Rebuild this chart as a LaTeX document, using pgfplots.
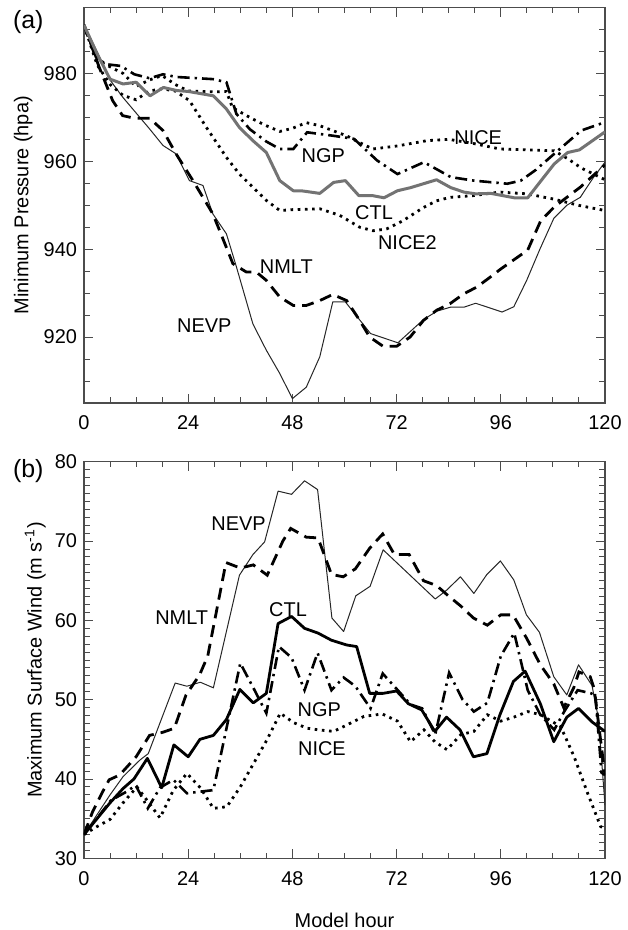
\documentclass[border=0pt]{standalone}
\usepackage{fontspec}
\setmainfont{Liberation Sans}
\usepackage{pgfplots}
\pgfplotsset{compat=1.18}
\pgfplotsset{
  base/.style={
    scale only axis, width=260.5bp,
    xmin=0, xmax=120, xtick={0,24,...,120}, minor xtick={0,6,...,120},
    tick align=inside,
    axis line style={black!70, line width=0.6bp},
    every tick/.style={black!70, line width=0.5bp},
    major tick length=4.5bp, minor tick length=2.8bp,
    tick label style={font=\fontsize{10}{12}\selectfont},
    /pgf/number format/assume math mode=true,
    xticklabel style={yshift=-3bp},
    label style={font=\fontsize{10}{12}\selectfont},
  },
  ctlg/.style={black!55, line width=1.5bp, line join=round},
  ctlb/.style={black, line width=1.4bp, line join=round},
  ngp/.style={black, line width=1.3bp, dash pattern=on 6bp off 2.5bp on 1.2bp off 2.5bp},
  nmlt/.style={black, line width=1.4bp, dash pattern=on 6bp off 3.5bp},
  nice/.style={black, line width=1.4bp, dash pattern=on 1.3bp off 2.3bp},
  nevp/.style={black!85, line width=0.5bp, line join=round},
}
\begin{document}
\begin{tikzpicture}
\useasboundingbox (-42bp,-35.85bp) rectangle (272bp,429.15bp);
% ---------- panel (a)
\begin{axis}[base, at={(0,227.65bp)}, anchor=south west, height=197.75bp,
  ymin=905, ymax=995, ytick={920,940,960,980}, minor ytick={910,915,...,990},
  ylabel={Minimum Pressure (hpa)},
  ylabel style={at={(axis description cs:-0.1068,0.5)}, anchor=base}]
\addplot[nevp] coordinates {(0,991)(3,985)(6,978.5)(9,974.5)(12,971)(15,967.5)(18.2,963.6)(21.2,961.7)(24.3,955.6)(27.4,954.5)(29.7,948)(32.8,943.5)(35.1,936)(38.9,923)(42,917)(45.1,911.7)(48,906)(51.2,908.6)(54.3,915.5)(57.3,928)(60.2,928)(66,920.8)(72.3,918.7)(78.2,924)(81.3,925.9)(84.4,926.8)(87.5,926.8)(90.2,927.7)(96.3,925.7)(99,926.9)(102,933)(105,940)(108.2,947)(111.2,950)(114.3,951.8)(117.4,956.4)(120,959.8)};
\addplot[nmlt] coordinates {(0,991)(3.5,981.4)(6.6,973.8)(8.9,970.4)(11.6,969.8)(15.1,969.8)(18.2,967)(21.2,961.7)(25.1,955.6)(29.7,948)(34.3,936.7)(37.4,934.8)(39.7,934.8)(42,932.9)(45.1,929.1)(48.2,927.2)(51.2,927.2)(54.3,928.3)(57.3,929.7)(60.5,928.3)(63.5,923.8)(65.8,920)(68.9,917.9)(72,917.9)(75.1,920)(78.2,923.8)(81.2,926.1)(84.3,927.6)(87.4,929.8)(90.5,931.4)(93.5,933.6)(96,935.5)(102.2,939.8)(105.2,946.5)(108.3,949.6)(111.2,951.8)(114.3,954.1)(120,959.2)};
\addplot[nice] coordinates {(0,991)(3,983)(6,981.5)(9,980)(12,977)(15,978.5)(18,979.5)(21,977.5)(24,976)(30,975.8)(32.8,975.9)(34.2,972.2)(38.9,969.6)(42,968.1)(45.1,966.8)(48,967.5)(51.2,968.8)(54.3,968.1)(60.5,965.8)(63,964.5)(66.5,962.8)(72.2,963.5)(79,964.7)(84,965)(90,964)(95.8,962.8)(108.3,962.4)(111.4,960.6)(114.5,958.5)(120,955.8)};
\addplot[nice] coordinates {(0,991)(3,982)(6,977.5)(9,975)(12,974)(15,976)(18,976.5)(21,976)(24.3,973.8)(28.2,967.7)(32.8,960.9)(35.8,957.1)(38.9,954.1)(42,951.1)(45.1,948.8)(48,949)(54.3,949.2)(58.9,947.7)(63.5,945)(66.6,944.2)(69.7,944.6)(73.5,946.5)(78.2,949.5)(81.2,951)(84.3,951.8)(89.7,952.2)(95.8,953)(102,952.6)(108.2,951.4)(114.3,949.9)(120,948.8)};
\addplot[ngp] coordinates {(0,991)(2.8,983.6)(5.1,982.1)(8.5,981.7)(11.6,979.8)(15.1,978.9)(18.2,979.8)(21.2,979.2)(29.7,978.7)(32.8,978)(35.1,970.8)(38.2,967.3)(42,964.5)(45.1,962.8)(48.2,962.8)(51.4,966.6)(57.5,965.8)(62.2,965.1)(67.5,960.2)(72.2,957.1)(78.3,959.8)(84.5,956.4)(89.8,955.6)(97.5,954.9)(100.6,955.6)(104,958)(108.3,961.7)(114.5,967)(120,968.9)};
\addplot[ctlg] coordinates {(0,991)(3,984.5)(6,978.7)(9,977.6)(12,978)(15.2,974.9)(18.3,976.8)(21.4,976.1)(24,975.9)(29.8,974.9)(32.8,971.9)(35.8,967.7)(38.9,964.7)(42,962)(45.1,955.6)(48.2,953.3)(50,953.3)(54.3,952.7)(57.5,955.2)(60.2,955.6)(63.3,952.2)(66.4,952.2)(69.1,951.7)(72.2,953.3)(75.2,954)(81.2,955.8)(84.5,954)(87.5,953)(90.2,952.6)(93.7,952.7)(99.1,951.7)(102.2,951.7)(105.2,955.5)(108.3,959.4)(111.4,962)(114.1,962.6)(120,966.7)};
\node[font=\fontsize{10}{12}\selectfont, inner sep=0] at (axis cs:55.1,961.4) {NGP};
\node[font=\fontsize{10}{12}\selectfont, inner sep=0] at (axis cs:90.8,965.3) {NICE};
\node[font=\fontsize{10}{12}\selectfont, inner sep=0] at (axis cs:66.8,948.4) {CTL};
\node[font=\fontsize{10}{12}\selectfont, inner sep=0] at (axis cs:74.5,941.4) {NICE2};
\node[font=\fontsize{10}{12}\selectfont, inner sep=0] at (axis cs:46.6,936.1) {NMLT};
\node[font=\fontsize{10}{12}\selectfont, inner sep=0] at (axis cs:27.7,922.6) {NEVP};
\end{axis}
% ---------- panel (b)
\begin{axis}[base, at={(0,0)}, anchor=south west, height=198.25bp,
  ymin=30, ymax=80, ytick={30,40,...,80}, minor ytick={30,31,...,80},
  ylabel={Maximum Surface Wind (m s\textsuperscript{-1})},
  ylabel style={at={(axis description cs:-0.0813,0.5)}, anchor=base},
  xlabel={Model hour},
  xlabel style={at={(axis description cs:0.5,0)}, anchor=base, yshift=-34.35bp}]
\addplot[nevp] coordinates {(0,33)(3,35.5)(6,38)(9,40.3)(12.9,42.4)(14.8,43.2)(21,52.1)(23.7,51.7)(26.8,52.2)(29.8,51.5)(32.8,58.6)(35.8,65.7)(38.9,68.3)(41.6,69.9)(44.7,76.3)(47.8,75.9)(50.8,77.6)(53.8,76.5)(57.1,60.3)(59.8,58.6)(62.6,63.1)(65.9,64.3)(68.9,68.9)(80.9,62.7)(83.5,63.8)(86.7,65.5)(89.8,63.4)(92.8,65.8)(95.9,67.5)(99,65.1)(101.9,60.7)(104.9,58.5)(108.2,52.9)(111.2,50.6)(113.9,54.4)(117,51.8)(118.5,47.6)(120,36.7)};
\addplot[nmlt] coordinates {(0,33)(2,35.9)(4.3,38.4)(5.8,39.9)(8.2,40.5)(9.7,41.4)(12,42.8)(15.1,45.5)(18.2,45.9)(20.8,46.4)(23.5,50.6)(26.6,53.1)(28.5,55.5)(32.7,67.3)(36,66.6)(39,67)(42.2,65.7)(45.8,70)(47.6,71.6)(51.2,70.5)(53.9,70.4)(57,65.8)(59.7,65.5)(62.5,66.5)(65.8,69.1)(68.8,70.9)(71.5,68.3)(74.9,68.3)(78.2,65)(81.2,64.4)(83.7,63.2)(86.8,61.8)(89.7,60.3)(92.9,59.4)(96,60.7)(98.8,60.7)(102,57.7)(105.1,54.4)(108.2,52)(110.5,49)(112.8,51.5)(114,53.5)(116.6,52.9)(117.5,51.4)(120,40.5)};
\addplot[nice] coordinates {(0,33)(3,34)(6,34.9)(9,37)(12.2,39)(14.8,37.1)(17.5,35.1)(20.6,38.6)(23.7,40.7)(26.8,38.9)(29.8,36.3)(32.9,36.5)(36,39)(39.1,42)(42.2,45)(45.2,48.3)(48.3,47.1)(51.4,46.4)(54,46.2)(57.5,46)(60.5,46.8)(64.5,47.9)(68.7,48.2)(72.2,47.3)(75.2,44.7)(78.3,46.2)(80.8,44.7)(83.6,43.7)(86.8,45.6)(89.8,46)(92.9,48.1)(96,47.3)(99,47.8)(102.2,48.5)(105.2,48.1)(109.8,46.6)(112.9,42.8)(116,38.2)(119,34)(120,33.7)};
\addplot[ngp] coordinates {(0,33)(3.5,35.4)(6.2,37.3)(9.8,38.4)(11.9,39.2)(14.7,36.3)(17.5,38.9)(20.6,39.9)(23.7,38.2)(29.8,38.6)(36,54.6)(39,51.5)(42,48.3)(44.9,56.7)(47.8,55.3)(50.8,51.2)(53.8,55.9)(57,51.2)(59.8,52.8)(62.5,51.7)(66,48.9)(68.8,53.3)(72.1,51.3)(75.2,49.4)(77.9,48.9)(80.9,45.6)(84.1,53.4)(87.2,50)(89.8,48.5)(92.9,49.6)(96,55.5)(99.1,58.4)(102.2,51.2)(105.1,48.1)(108.3,46.2)(110.6,48.5)(113.7,51.2)(116.8,50.8)(117.8,50.5)(119.2,40.8)(120,40.5)};
\addplot[ctlb] coordinates {(0,33)(3,35)(6,37)(9,38.8)(11.5,40)(14.6,42.6)(17.9,38.9)(20.7,44.3)(24,42.8)(26.7,45)(29.8,45.5)(32.8,47.5)(35.9,51.3)(39,49.6)(42,50.8)(44.7,59.6)(47.8,60.5)(50.8,59)(53.9,58.4)(57,57.5)(60.5,56.9)(62.8,56.7)(65.8,50.8)(68.9,50.8)(72,51.1)(74.7,49.5)(77.8,48.7)(80.8,46)(83.5,47.8)(86.6,46.2)(89.7,42.8)(92.8,43.2)(95.8,48.1)(98.9,52.3)(101.6,53.6)(105.1,49.5)(108.2,44.7)(111.2,47.8)(113.9,48.9)(117,47.2)(120,46)};
\node[font=\fontsize{10}{12}\selectfont, inner sep=0] at (axis cs:35.6,72.2) {NEVP};
\node[font=\fontsize{10}{12}\selectfont, inner sep=0] at (axis cs:22.5,60.3) {NMLT};
\node[font=\fontsize{10}{12}\selectfont, inner sep=0] at (axis cs:47,61.3) {CTL};
\node[font=\fontsize{10}{12}\selectfont, inner sep=0] at (axis cs:54.2,48.7) {NGP};
\node[font=\fontsize{10}{12}\selectfont, inner sep=0] at (axis cs:54.8,43.8) {NICE};
\end{axis}
\node[anchor=west, inner sep=0, font=\fontsize{12.5}{15}\selectfont] at (-35.65bp,417.9bp) {(a)};
\node[anchor=west, inner sep=0, font=\fontsize{12.5}{15}\selectfont] at (-35.65bp,193.65bp) {(b)};
\end{tikzpicture}
\end{document}
